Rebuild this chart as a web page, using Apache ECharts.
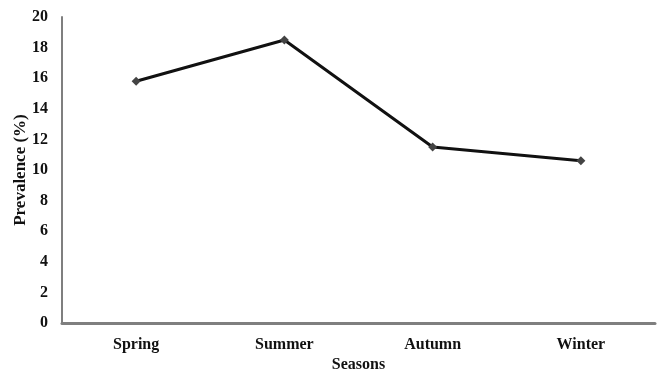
<!DOCTYPE html>
<html><head><meta charset="utf-8">
<script src="https://cdn.jsdelivr.net/npm/echarts@6/dist/echarts.min.js"></script>
<style>html,body{margin:0;padding:0;background:#fff}#c{width:658px;height:371px}</style>
</head><body><div id="c"></div>
<script>
const categories = ['Spring', 'Summer', 'Autumn', 'Winter'];
const prevalence = [15.8, 18.5, 11.5, 10.6];
const yMin = 0, yMax = 20, yStep = 2;

const font = '"Liberation Serif", "Times New Roman", serif';
const chart = echarts.init(document.getElementById('c'));
chart.setOption({
  animation: false,
  grid: { left: 62, right: 3, top: 17, bottom: 48, containLabel: false, outerBoundsMode: 'none' },
  xAxis: {
    type: 'category', data: categories, boundaryGap: true,
    name: 'Seasons', nameLocation: 'middle', nameGap: 34, nameMoveOverlap: false,
    nameTextStyle: { fontFamily: font, fontWeight: 'bold', fontSize: 16, color: '#111' },
    axisLine: { lineStyle: { color: '#7f7f7f', width: 3 } },
    axisTick: { show: false },
    axisLabel: { fontFamily: font, fontWeight: 'bold', fontSize: 16, color: '#111', margin: 14 }
  },
  yAxis: {
    type: 'value', min: yMin, max: yMax, interval: yStep,
    name: 'Prevalence (%)', nameLocation: 'middle', nameGap: 33, nameRotate: 90, nameMoveOverlap: false,
    nameTextStyle: { fontFamily: font, fontWeight: 'bold', fontSize: 17, color: '#111' },
    axisLine: { show: true, lineStyle: { color: '#7f7f7f', width: 2 } },
    axisTick: { show: false },
    splitLine: { show: false },
    axisLabel: { fontFamily: font, fontWeight: 'bold', fontSize: 16, color: '#111', margin: 14 }
  },
  series: [{
    type: 'line', data: prevalence,
    symbol: 'diamond', symbolSize: 9,
    lineStyle: { color: '#111', width: 3 },
    itemStyle: { color: '#444' }
  }]
});
</script></body></html>
